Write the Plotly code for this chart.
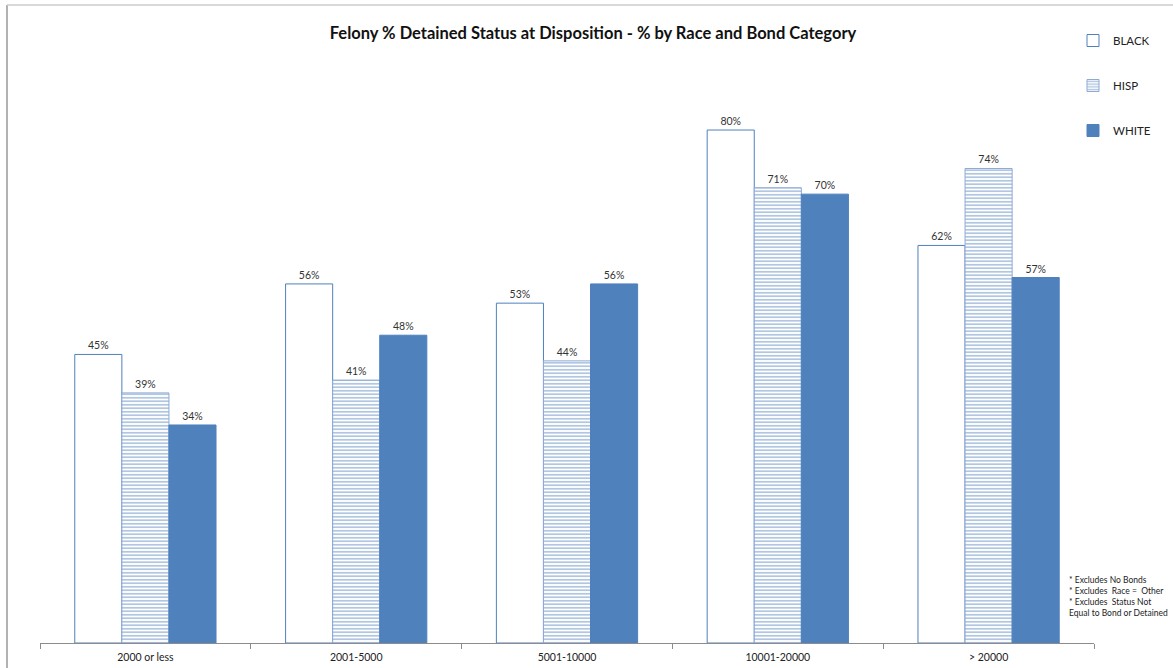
import plotly.graph_objects as go

categories = ["2000 or less", "2001-5000", "5001-10000", "10001-20000", "> 20000"]
black = [45, 56, 53, 80, 62]
hisp = [39, 41, 44, 71, 74]
white = [34, 48, 56, 70, 57]

BLUE = "#4F81BD"
W, H = 1173, 668
L, R, T, B = 40, 79, 60, 25
pw, ph = W - L - R, H - T - B

def px_x(x):
    return (x - L) / pw

def px_y(y):
    return (H - B - y) / ph

fig = go.Figure()
fig.add_bar(x=categories, y=black, name="BLACK", legendgroup="a",
            marker=dict(color="white", line=dict(color=BLUE, width=1)),
            text=[f"{v}%" for v in black], textposition="outside", cliponaxis=False)
fig.add_bar(x=categories, y=hisp, name="HISP", legendgroup="b",
            marker=dict(color="white", line=dict(color="#8EA9D6", width=1),
                        pattern=dict(shape="-", fgcolor=BLUE, bgcolor="white", size=3.5, solidity=0.45)),
            text=[f"{v}%" for v in hisp], textposition="outside", cliponaxis=False)
fig.add_bar(x=categories, y=white, name="WHITE", legendgroup="c",
            marker=dict(color=BLUE, line=dict(color=BLUE, width=1)),
            text=[f"{v}%" for v in white], textposition="outside", cliponaxis=False)

fig.update_traces(textfont=dict(size=10.5, color="#333333", family="Lato"))

fig.update_layout(
    width=W, height=H,
    margin=dict(l=L, r=R, t=T, b=B),
    paper_bgcolor="white", plot_bgcolor="white",
    barmode="group", bargap=0.33, bargroupgap=0,
    font=dict(family="Lato", color="#222222"),
    title=dict(text="<b>Felony % Detained Status at Disposition - % by Race and Bond Category</b>",
               x=593 / W, xref="container", xanchor="center", y=1 - 33 / H, yref="container",
               yanchor="middle", font=dict(size=16.5, color="#111111", family="Lato")),
    xaxis=dict(showline=True, linecolor="#8c8c8c", linewidth=1, ticks="outside", automargin=False,
               tickson="boundaries", ticklen=5, tickcolor="#8c8c8c", ticklabelstandoff=4,
               tickfont=dict(size=10.5, color="#222222", family="Lato"),
               showgrid=False, zeroline=False),
    yaxis=dict(range=[0, 90.92], visible=False, showgrid=False, zeroline=False, automargin=False),
    legend=dict(x=px_x(1073), y=px_y(26), xanchor="left", yanchor="top", itemwidth=30,
                tracegroupgap=26, font=dict(size=11.5, color="#222222", family="Lato"),
                bgcolor="rgba(0,0,0,0)"),
    showlegend=True,
)

fig.add_annotation(xref="paper", yref="paper", x=px_x(1170), y=px_y(573),
                   xanchor="right", yanchor="top", align="left", showarrow=False,
                   text="* Excludes No Bonds<br>* Excludes  Race =  Other<br>* Excludes  Status Not<br>Equal to Bond or Detained",
                   font=dict(size=8.5, color="#222222", family="Lato"))

fig.add_shape(type="line", xref="paper", yref="paper", x0=px_x(7), x1=px_x(7), y0=px_y(5), y1=px_y(668),
              line=dict(color="#999999", width=1.5))
fig.add_shape(type="line", xref="paper", yref="paper", x0=px_x(7), x1=px_x(1173), y0=px_y(5), y1=px_y(5),
              line=dict(color="#cccccc", width=1.5))

fig.write_html("out.html")
